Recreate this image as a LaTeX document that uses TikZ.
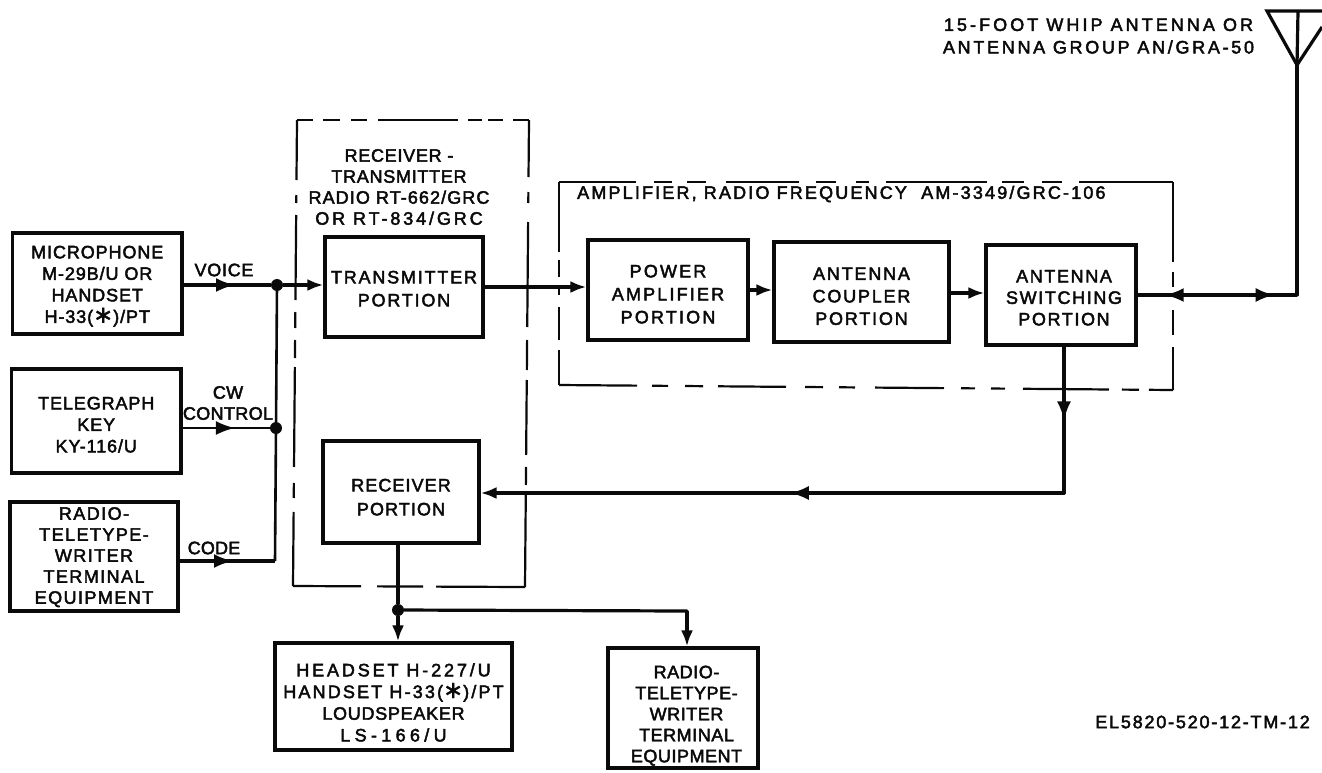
\documentclass[tikz,border=0pt]{standalone}
\usepackage{fontspec}
\setmainfont{Liberation Sans}
\newfontfamily\symf{DejaVu Sans}[FakeBold=1]
\usetikzlibrary{arrows.meta,decorations.markings}
\newcommand\lbl[2]{\addfontfeature{LetterSpace=#1,FakeBold=2.5}\fontsize{18}{#2}\selectfont}
\newcommand\lsp[2]{{\addfontfeature{LetterSpace=#1,FakeBold=2.5}#2}}
\newcommand\astk{\smash{\fontsize{24}{24}\symf ∗}}
\newcommand\down[1]{\rule{0pt}{\dimexpr 12.9pt+2\dimexpr #1pt\relax\relax}}
\definecolor{inkc}{gray}{0.04}
\tikzset{
  x=1pt,y=-1pt,
  blk/.tip={Latex[length=16pt,width=12pt]},
  blkm/.tip={Latex[length=19pt,width=14pt]},
  box/.style={draw=inkc,line width=3.2pt,minimum width=#1,inner sep=0pt,align=center,anchor=center,text=inkc},
  tag/.style={inner sep=0pt,align=center,text=inkc},
  wire/.style={draw=inkc,line width=3.2pt},
  thinwire/.style={draw=inkc,line width=2.6pt},
  dashside/.style={draw=inkc,line width=2.2pt},
  dot/.style={circle,fill=inkc,inner sep=0pt,minimum size=12pt},
  midtip/.style={postaction={decorate,decoration={markings,mark=at position #1 with {\arrow[inkc]{blkm}}}}},
}
\begin{document}
\begin{tikzpicture}
\useasboundingbox (0,0) rectangle (1322,772);
\fill[white] (0,0) rectangle (1322,772);
% dashed enclosures
\coordinate (t1) at (297,120);
\coordinate (t2) at (529,120);
\coordinate (t3) at (525,587);
\coordinate (t4) at (293,586);
\draw[dashside,dash pattern=on 16pt off 10pt on 17pt off 11pt on 16pt off 11pt on 80pt off 10pt on 14pt off 6pt on 15pt off 10pt on 40pt] (t1) -- (t2);
\draw[dashside,dash pattern=on 57pt off 15pt on 11pt off 19pt on 105pt off 13pt on 30pt off 10pt on 75pt off 12pt on 18pt off 10pt on 110pt] (t2) -- (t3);
\draw[dashside,dash pattern=on 68pt off 16pt on 46pt off 13pt on 100pt] (t4) -- (t3);
\draw[dashside,dash pattern=on 60pt off 15pt on 8pt off 12pt on 85pt off 12pt on 16pt off 12pt on 18pt off 9pt on 100pt off 16pt on 15pt off 14pt on 90pt] (t1) -- (t4);
\coordinate (u1) at (559,182);
\coordinate (u2) at (1173,182);
\coordinate (u3) at (1173,390);
\coordinate (u4) at (559,385);
\draw[dashside,dash pattern=on 77pt off 18pt on 18pt off 15pt on 19pt off 20pt on 73pt off 17pt on 20pt off 20pt on 13pt off 17pt on 101pt off 15pt on 22pt off 18pt on 20pt off 17pt on 100pt] (u1) -- (u2);
\draw[dashside,dash pattern=on 80pt off 10pt on 15pt off 23pt on 25pt off 12pt on 100pt] (u2) -- (u3);
\draw[dashside,dash pattern=on 78pt off 15pt on 16pt off 17pt on 18pt off 15pt on 68pt off 19pt on 18pt off 16pt on 16pt off 20pt on 69pt off 17pt on 14pt off 16pt on 14pt off 18pt on 86pt off 13pt on 17pt off 10pt on 30pt] (u4) -- (u3);
\draw[dashside,dash pattern=on 70pt off 8pt on 17pt off 8pt on 10pt off 12pt on 33pt off 10pt on 50pt] (u1) -- (u4);
% boxes
\node[box=169.5pt,minimum height=101pt,font=\lbl{5}{21.5}] (mic) at (97.25,283.5) {\down{2.5}MICROPHONE\\M-29B/U OR\\HANDSET\\H-33(\astk)/PT};
\node[box=169.5pt,minimum height=104pt,font=\lbl{5}{21.5}] (tele) at (96.25,421) {\down{3.5}TELEGRAPH\\KEY\\KY-116/U};
\node[box=168pt,minimum height=109pt,font=\lbl{8}{21}] (rtty) at (94,556.5) {\down{0.5}RADIO-\\TELETYPE-\\WRITER\\TERMINAL\\EQUIPMENT};
\node[box=158pt,minimum height=100pt,font=\lbl{10}{23}] (trans) at (404,287) {\down{1.5}TRANSMITTER\\PORTION};
\node[box=156pt,minimum height=102pt,font=\lbl{6}{24}] (recv) at (401,492) {\down{5}RECEIVER\\PORTION};
\node[box=160pt,minimum height=100pt,font=\lbl{12}{23}] (power) at (668,290) {\down{4}POWER\\AMPLIFIER\\PORTION};
\node[box=175pt,minimum height=100pt,font=\lbl{10}{22.5}] (coupler) at (861.5,292) {\down{4}ANTENNA\\COUPLER\\PORTION};
\node[box=150pt,minimum height=100pt,font=\lbl{9}{21.5}] (switch) at (1061,295) {\down{2.5}\hspace*{6pt}ANTENNA\\\hspace*{6pt}SWITCHING\\\hspace*{6pt}PORTION};
\node[box=237pt,minimum height=107pt,font=\lbl{8}{21.7}] (head) at (393.5,696.5) {\down{6}\lsp{16}{HEADSET H-227/U}\\\lsp{12}{HANDSET H-33(\astk)/PT}\\\lsp{4}{LOUDSPEAKER}\\\lsp{24}{LS-166/U}};
\node[box=150pt,minimum height=120pt,font=\lbl{3}{21}] (rtty2) at (683,708) {\down{7.5}\hspace*{7pt}RADIO-\\\hspace*{7pt}TELETYPE-\\\hspace*{7pt}WRITER\\\hspace*{7pt}TERMINAL\\\hspace*{7pt}EQUIPMENT};
% junctions and bends
\node[dot] (j1) at (277,285) {};
\node[dot] (j2) at (276,428) {};
\node[dot] (j3) at (398,610) {};
\coordinate (c3) at (275,561);
\coordinate (a1) at (1297,65);
\coordinate (a2) at (1297,295);
\coordinate (d1) at (1064,493);
\coordinate (d0) at (1064,345);
\coordinate (r1) at (687,611);
\coordinate (y1) at (0,290);
\coordinate (y2) at (0,293);
% connectors
\draw[wire,midtip=0.59] (mic.east |- j1) -- (j1);
\draw[wire,-{blk}] (j1) -- (trans.west |- j1);
\draw[thinwire,midtip=0.6] (tele.east |- j2) -- (j2);
\draw[wire,midtip=0.56] (rtty.east |- c3) -- (c3);
\draw[thinwire] (c3) -- (j2) -- (j1);
\draw[wire,-{blk}] (trans.east) -- (power.west |- trans.east);
\draw[wire,-{blk}] (power.east |- y1) -- (coupler.west |- y1);
\draw[wire,-{blk}] (coupler.east |- y2) -- (switch.west |- y2);
\draw[wire,midtip=0.86] (switch.east) -- (a2);
\draw[wire,midtip=0.83] (a2) -- (switch.east);
\draw[wire,line cap=round] (a2) -- (a1);
\draw[wire,line join=miter] (1322,11) -- (1267,11) -- (a1) -- (1322,27);
\draw[wire] (1298,11) -- (a1);
\draw[wire,midtip=0.51,line cap=round] (d0) -- (d1);
\draw[wire,midtip=0.47,-{blk},line cap=round] (d1) -- (recv.east |- d1);
\draw[wire] (recv.south -| j3) -- (j3);
\draw[wire,-{blk}] (j3) -- (head.north -| j3);
\draw[wire,line cap=round] (j3) -- (r1);
\draw[wire,-{blk}] (r1) -- (rtty2.north -| r1);
% free labels
\node[tag,font=\lbl{4}{20}] (lvoice) at (224,270) {VOICE};
\node[tag,font=\lbl{2}{21}] (lcw) at (228,403) {CW\\CONTROL};
\node[tag,font=\lbl{1}{20}] (lcode) at (214,548) {CODE};
\node[tag,font=\lbl{4}{21}] (lrecv) at (399,187) {RECEIVER -\\TRANSMITTER\\\lsp{6}{RADIO RT-662/GRC}\\\lsp{16}{OR RT-834/GRC}};
\node[tag,font=\lbl{12}{20},anchor=west] (lamp) at (577,194) {AMPLIFIER, RADIO FREQUENCY\ \ AM-3349/GRC-106};
\node[tag,font=\lbl{14}{22.5}] (lant) at (1098.5,36) {\lsp{17}{15-FOOT WHIP ANTENNA OR}\\\lsp{15}{ANTENNA GROUP AN/GRA-50}};
\node[tag,font=\lbl{10}{20},anchor=east] (lref) at (1310,722) {EL5820-520-12-TM-12};
\end{tikzpicture}
\end{document}
